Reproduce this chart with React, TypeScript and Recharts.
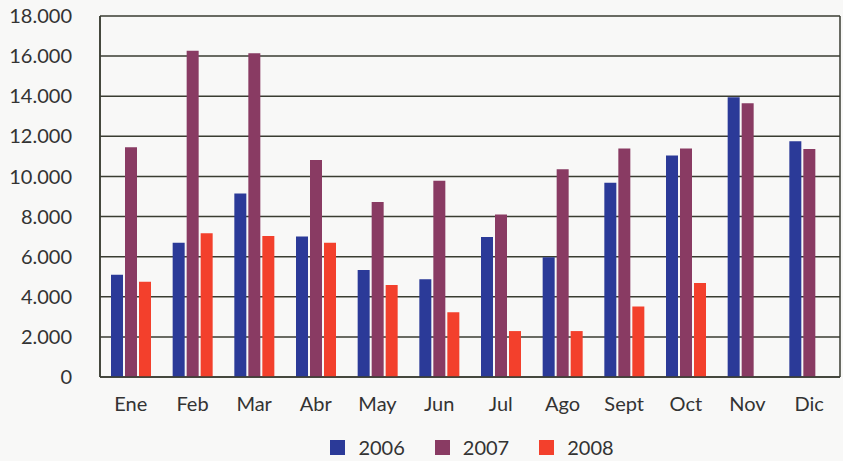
import React from 'react';
import {
  BarChart,
  Bar,
  XAxis,
  YAxis,
  CartesianGrid,
  Legend,
} from 'recharts';

// Months (Spanish abbreviations) and monthly values per year
const months = ['Ene', 'Feb', 'Mar', 'Abr', 'May', 'Jun', 'Jul', 'Ago', 'Sept', 'Oct', 'Nov', 'Dic'];
const values2006 = [5100, 6700, 9150, 7000, 5330, 4870, 6980, 5970, 9690, 11040, 13950, 11750];
const values2007 = [11450, 16270, 16140, 10820, 8730, 9780, 8100, 10360, 11390, 11390, 13650, 11370];
const values2008 = [4750, 7170, 7030, 6700, 4590, 3230, 2290, 2290, 3510, 4690, null, null];
const yTicks = [0, 2000, 4000, 6000, 8000, 10000, 12000, 14000, 16000, 18000];

const series = [
  { key: 'y2006', name: '2006', color: '#2b3a98' },
  { key: 'y2007', name: '2007', color: '#893b63' },
  { key: 'y2008', name: '2008', color: '#f3402c' },
];

const data = months.map((month, i) => ({
  month,
  y2006: values2006[i],
  y2007: values2007[i],
  y2008: values2008[i],
}));

const FONT = 'Lato, "Open Sans", sans-serif';
const formatThousands = (v: number) => (v === 0 ? '0' : v.toLocaleString('de-DE'));

const renderLegend = () => (
  <div
    style={{
      display: 'flex',
      justifyContent: 'center',
      alignItems: 'center',
      fontFamily: FONT,
      fontSize: 20,
      color: '#333',
      paddingLeft: 104,
      height: 28,
    }}
  >
    {series.map((s) => (
      <div key={s.key} style={{ display: 'flex', alignItems: 'center', margin: '0 15px' }}>
        <span style={{ width: 15, height: 15, background: s.color, display: 'inline-block', marginRight: 13 }} />
        <span>{s.name}</span>
      </div>
    ))}
  </div>
);

export default function App() {
  return (
    <div style={{ position: 'absolute', left: 0, top: 0, width: 843, height: 461, background: '#f8f8f7' }}>
      <BarChart
        width={843}
        height={461}
        data={data}
        margin={{ top: 16, right: 3, left: 0, bottom: 0 }}
        barSize={12}
        barGap={2}
      >
        <CartesianGrid
          stroke="#3a3d32"
          strokeWidth={1.5}
          verticalCoordinatesGenerator={({ offset }: any) => [offset.left, offset.left + offset.width]}
        />
        <XAxis
          dataKey="month"
          tickLine={false}
          tickSize={0}
          tickMargin={20}
          axisLine={{ stroke: '#3a3d32', strokeWidth: 1.5 }}
          tick={{ fontSize: 20, fill: '#333', fontFamily: FONT }}
          interval={0}
          height={56}
        />
        <YAxis
          domain={[0, 18000]}
          ticks={yTicks}
          tickFormatter={formatThousands}
          tickLine={false}
          tickSize={0}
          tickMargin={28}
          width={100}
          axisLine={{ stroke: '#3a3d32', strokeWidth: 1.5 }}
          tick={{ fontSize: 20, fill: '#333', fontFamily: FONT }}
        />
        <Legend content={renderLegend} verticalAlign="bottom" height={28} />
        {series.map((s) => (
          <Bar key={s.key} dataKey={s.key} name={s.name} fill={s.color} isAnimationActive={false} />
        ))}
      </BarChart>
    </div>
  );
}
